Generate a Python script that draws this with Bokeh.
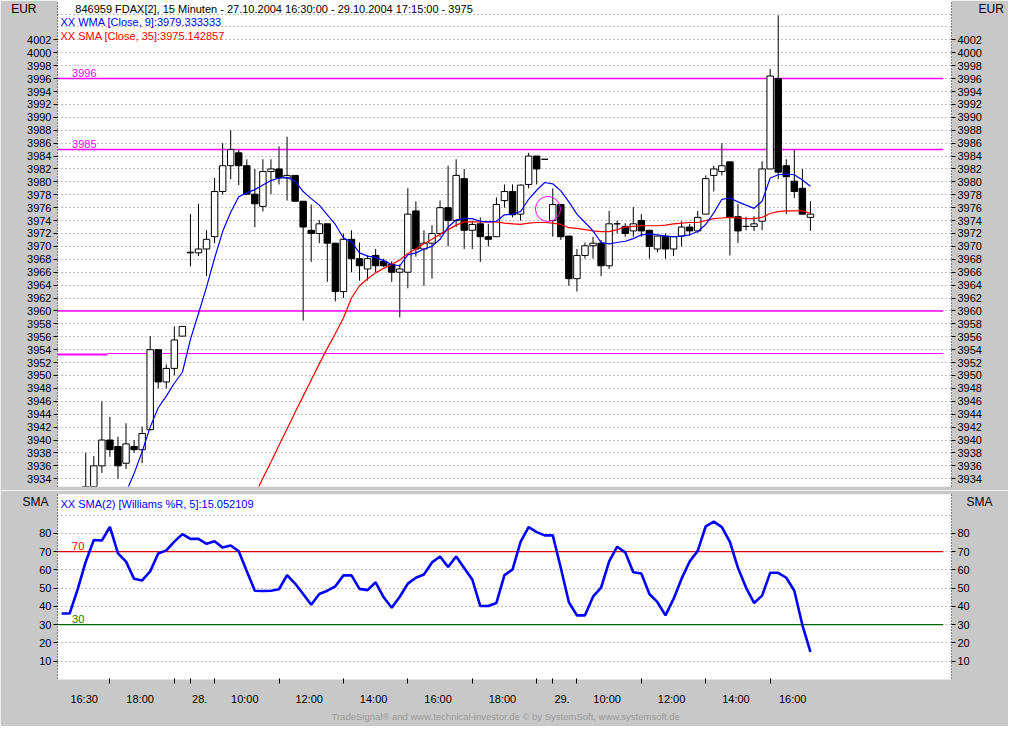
from bokeh.plotting import figure
from bokeh.layouts import column
from bokeh.models import (Range1d, FixedTicker, LinearAxis, Label, Title,
                          ColumnDataSource)
from bokeh.core.properties import value
from bokeh.embed import file_html
from bokeh.resources import INLINE

# ---------------- data ----------------
bar_index = list(range(91))
opens = [3930.5, 3931.5, 3936.0, 3940.0, 3939.0, 3936.4, 3939.0, 3938.5, 3941.6, 3954.0,
         3949.0, 3951.1, 3956.1, 3969.0, 3969.0, 3969.6, 3971.5, 3978.5, 3982.5, 3984.5,
         3982.5, 3978.1, 3976.2, 3981.6, 3982.0, 3980.6, 3981.0, 3977.0, 3972.5, 3972.0,
         3973.5, 3970.5, 3963.0, 3971.1, 3968.1, 3966.5, 3968.6, 3967.7, 3967.2, 3966.0,
         3966.0, 3975.5, 3969.6, 3970.5, 3972.0, 3976.0, 3974.0, 3980.5, 3972.5, 3973.5,
         3971.5, 3971.5, 3977.1, 3978.5, 3975.0, 3979.6, 3984.0, 3983.5, 3974.0, 3976.5,
         3971.6, 3965.0, 3968.6, 3970.1, 3970.5, 3967.0, 3973.5, 3973.1, 3972.4, 3974.0,
         3972.5, 3969.6, 3971.6, 3969.6, 3971.6, 3973.0, 3972.4, 3975.0, 3981.0, 3981.6,
         3983.1, 3974.6, 3973.1, 3973.1, 3973.9, 3982.0, 3996.0, 3982.5, 3980.1, 3979.0,
         3974.5]
highs = [3938.0, 3937.5, 3946.0, 3943.6, 3940.5, 3942.6, 3940.0, 3942.1, 3956.1, 3954.0,
         3951.7, 3957.6, 3957.6, 3975.0, 3976.6, 3972.5, 3980.6, 3986.0, 3988.0, 3985.0,
         3983.5, 3982.0, 3983.5, 3983.5, 3985.5, 3987.0, 3981.0, 3977.0, 3976.5, 3974.1,
         3973.5, 3970.5, 3972.0, 3972.5, 3970.6, 3968.6, 3969.6, 3968.1, 3967.7, 3967.2,
         3979.0, 3977.0, 3972.5, 3973.3, 3977.1, 3982.5, 3983.5, 3982.0, 3974.0, 3974.5,
         3973.5, 3977.6, 3979.6, 3979.6, 3979.6, 3984.5, 3984.0, 3983.5, 3979.0, 3976.5,
         3971.6, 3969.6, 3970.6, 3971.5, 3971.0, 3975.5, 3974.0, 3973.6, 3976.1, 3975.0,
         3972.5, 3971.6, 3972.0, 3971.6, 3973.9, 3973.5, 3975.5, 3981.0, 3982.5, 3986.0,
         3983.1, 3976.6, 3974.6, 3974.7, 3983.2, 3997.5, 4005.8, 3983.5, 3985.0, 3982.0,
         3977.0]
lows = [3929.5, 3930.5, 3934.9, 3937.4, 3934.0, 3935.5, 3938.0, 3936.4, 3941.5, 3948.0,
        3948.0, 3950.0, 3956.1, 3966.9, 3968.5, 3965.4, 3970.5, 3978.0, 3980.4, 3979.5,
        3978.0, 3973.0, 3975.4, 3978.1, 3979.6, 3977.1, 3977.0, 3958.5, 3967.6, 3970.5,
        3964.5, 3961.5, 3962.0, 3966.0, 3964.7, 3964.7, 3966.0, 3966.8, 3964.5, 3959.0,
        3963.5, 3968.4, 3963.9, 3965.0, 3971.5, 3970.0, 3973.0, 3969.6, 3969.6, 3967.6,
        3970.0, 3971.5, 3976.0, 3974.5, 3974.0, 3979.0, 3979.6, 3983.5, 3971.5, 3971.0,
        3963.9, 3963.0, 3968.1, 3968.1, 3965.4, 3966.5, 3972.0, 3971.5, 3971.5, 3971.5,
        3968.1, 3969.1, 3968.1, 3968.5, 3970.0, 3971.6, 3972.1, 3975.0, 3978.5, 3981.0,
        3968.6, 3970.5, 3972.5, 3972.4, 3972.5, 3982.0, 3980.4, 3975.0, 3977.5, 3975.0,
        3972.4]
closes = [3932.5, 3936.0, 3940.0, 3938.5, 3936.0, 3939.4, 3938.5, 3941.0, 3954.0, 3949.0,
          3951.1, 3955.5, 3957.6, 3969.1, 3969.6, 3971.1, 3978.5, 3982.5, 3985.0, 3982.5,
          3978.1, 3976.6, 3981.6, 3982.0, 3980.6, 3981.0, 3977.0, 3973.0, 3972.0, 3973.5,
          3970.5, 3963.0, 3971.1, 3968.1, 3967.0, 3968.1, 3967.0, 3967.0, 3966.0, 3966.5,
          3975.0, 3969.6, 3970.5, 3972.0, 3976.0, 3974.0, 3981.0, 3972.5, 3973.4, 3971.5,
          3971.1, 3976.5, 3978.5, 3974.9, 3979.5, 3984.0, 3982.0, 3983.5, 3976.5, 3971.5,
          3965.0, 3968.6, 3970.1, 3970.5, 3967.0, 3973.5, 3973.5, 3972.0, 3973.5, 3972.4,
          3970.0, 3971.6, 3969.6, 3971.5, 3973.0, 3972.4, 3974.5, 3980.5, 3982.0, 3982.5,
          3974.5, 3972.4, 3973.1, 3973.5, 3982.0, 3996.4, 3981.5, 3980.8, 3978.5, 3975.0,
          3975.0]

wma_start = 4
wma9 = [3929.5, 3931.9, 3934.8, 3938.2, 3942.0, 3945.0, 3946.8, 3948.8, 3950.5, 3955.6,
        3959.6, 3963.7, 3968.2, 3972.3, 3975.3, 3977.7, 3978.3, 3978.8, 3979.5, 3980.2,
        3980.6, 3980.7, 3980.1, 3978.5, 3977.4, 3976.4, 3974.9, 3973.4, 3971.3, 3970.7,
        3969.0, 3968.5, 3968.3, 3967.8, 3967.2, 3967.0, 3968.7, 3969.0, 3969.6, 3970.0,
        3971.1, 3973.0, 3974.1, 3974.3, 3974.3, 3973.9, 3973.8, 3973.9, 3974.9, 3975.0,
        3975.4, 3977.3, 3978.7, 3979.9, 3979.7, 3978.6, 3976.9, 3975.0, 3973.7, 3972.4,
        3970.6, 3970.4, 3970.6, 3970.8, 3971.2, 3971.8, 3971.9, 3971.8, 3971.6, 3971.5,
        3971.6, 3971.8, 3972.3, 3973.4, 3975.2, 3977.3, 3977.5, 3976.9, 3976.4, 3975.9,
        3977.0, 3980.6, 3981.1, 3981.2, 3981.1, 3980.3, 3979.33]

sma_start = 21
sma35 = [3931.5, 3934.1, 3936.6, 3939.2, 3941.7, 3944.3, 3946.8, 3949.3, 3951.8, 3954.2,
         3956.5, 3958.9, 3962.0, 3963.9, 3965.0, 3965.9, 3966.6, 3967.2, 3967.9, 3968.9,
         3969.6, 3970.4, 3971.1, 3971.9, 3972.6, 3973.3, 3973.8, 3973.8, 3973.8, 3973.8,
         3973.8, 3973.6, 3973.5, 3973.4, 3973.6, 3973.7, 3973.7, 3973.6, 3973.4, 3972.9,
         3972.8, 3972.6, 3972.4, 3972.3, 3972.3, 3972.6, 3973.0, 3973.1, 3973.2, 3973.2,
         3973.2, 3973.3, 3973.5, 3973.6, 3973.7, 3973.7, 3974.0, 3974.3, 3974.4, 3974.5,
         3974.4, 3974.3, 3974.3, 3974.5, 3975.1, 3975.4, 3975.5, 3975.5, 3975.5, 3975.14]

wr_start = -3
wr_sma2 = [36.1, 36.1, 49.5, 64.5, 76.4, 76.1, 83.5, 69.0, 64.5, 55.1,
           54.2, 59.2, 69.0, 70.7, 75.5, 79.6, 77.0, 77.0, 74.3, 75.7,
           72.2, 73.4, 70.2, 59.2, 48.6, 48.4, 48.6, 49.4, 57.1, 52.5,
           46.8, 40.9, 46.8, 48.6, 51.0, 57.0, 57.0, 49.6, 48.9, 53.2,
           45.0, 39.3, 45.3, 52.5, 55.7, 57.5, 64.1, 67.3, 61.6, 67.3,
           61.1, 54.8, 40.2, 40.2, 41.9, 57.1, 60.2, 75.4, 83.4, 80.7,
           78.9, 78.9, 61.0, 42.3, 35.1, 35.1, 45.3, 50.3, 64.6, 72.7,
           69.6, 58.7, 58.0, 46.8, 42.3, 35.1, 44.1, 55.2, 64.6, 70.4,
           83.9, 86.4, 83.4, 75.4, 61.1, 50.3, 41.9, 45.9, 58.4, 58.4,
           55.7, 48.6, 29.8, 15.05]

levels = [3996, 3985, 3960]
level_labels = ["3996", "3985"]
trend_left = 3953.25
trend_right = 3953.4
marked_bar = 57.4
marked_price = 3975.8
osc_levels = [70, 30]

price_ticks = list(range(3934, 4004, 2))
price_grid = list(range(3934, 4008, 2))
osc_ticks = [10, 20, 30, 40, 50, 60, 70, 80]
osc_grid = [10, 20, 30, 40, 50, 60, 70, 80, 90]
time_tick_bars = [3, 11, 13, 16, 24, 32, 40, 48, 56, 58, 61, 69, 77, 85]
time_label_bars = [-0.2, 6.75, 14.15, 19.75, 27.75, 35.75, 43.75, 51.75, 59.15,
                   64.75, 72.75, 80.75, 87.8]
time_labels = ["16:30", "18:00", "28.", "10:00", "12:00", "14:00", "16:00", "18:00",
               "29.", "10:00", "12:00", "14:00", "16:00"]

title_text = "846959  FDAX[2], 15 Minuten - 27.10.2004 16:30:00 - 29.10.2004 17:15:00 - 3975"
wma_text = "XX WMA [Close, 9]:3979.333333"
sma_text = "XX SMA [Close, 35]:3975.142857"
wr_text = "XX SMA(2) [Williams %R, 5]:15.052109"
footer = "TradeSignal\u00ae and www.technical-investor.de \u00a9 by  SystemSoft, www.systemsoft.de"
top_unit = "EUR"
low_unit = "SMA"

# ---------------- style ----------------
W = 1008
LB, RB = 57, 57
BG = "#C8C8C8"
FONT = "Liberation Sans"
MAG = "#FF00FF"
X_LO, X_HI = -3.51, 107.52
LINE_END = 106.5

TOP_H, TOP_FRAME = 490, 486
P_LO, P_HI = 3932.8, 4008.1
LOW_H, LOW_FRAME = 236, 184
O_LO, O_HI = 0.5, 101.3

xr = Range1d(X_LO, X_HI)


def style_axis(ax, ticks):
    ax.ticker = FixedTicker(ticks=ticks)
    ax.major_label_text_font = FONT
    ax.major_label_text_font_size = "11px"
    ax.major_label_text_color = "black"
    ax.major_tick_out = 4
    ax.major_tick_in = 0
    ax.minor_tick_out = 0
    ax.minor_tick_in = 0
    ax.major_label_standoff = 2
    ax.axis_line_color = "black"
    ax.axis_line_dash = "1 2"
    ax.major_tick_line_color = "black"


def header_axes(p, txt, ypos):
    ypos = round(ypos, 2)
    for loc, standoff in (("left", -12), ("right", -6)):
        ax = LinearAxis(ticker=FixedTicker(ticks=[ypos]),
                        major_label_overrides={ypos: txt})
        ax.major_label_text_font = FONT
        ax.major_label_text_font_size = "12px"
        ax.major_label_text_color = "black"
        ax.major_tick_out = 0
        ax.major_tick_in = 0
        ax.minor_tick_out = 0
        ax.minor_tick_in = 0
        ax.major_label_standoff = standoff
        ax.axis_line_color = None
        p.add_layout(ax, loc)


# ---------------- top panel ----------------
top = figure(width=W, height=TOP_H, x_range=xr, y_range=Range1d(P_LO, P_HI),
             output_backend="svg", toolbar_location=None, x_axis_location=None,
             min_border_left=LB, min_border_right=RB, min_border_top=0,
             min_border_bottom=TOP_H - TOP_FRAME, background_fill_color="white",
             border_fill_color=BG, outline_line_color=None)
top.xgrid.visible = False
top.ygrid.ticker = FixedTicker(ticks=price_grid)
top.ygrid.grid_line_color = "#808080"
top.ygrid.grid_line_dash = "1 3"
style_axis(top.yaxis[0], price_ticks)
ra = LinearAxis()
style_axis(ra, price_ticks)
top.add_layout(ra, "right")
header_axes(top, top_unit, P_HI - 8 * (P_HI - P_LO) / TOP_FRAME)

# horizontal level lines
top.segment(x0=[X_LO] * len(levels), x1=[LINE_END] * len(levels), y0=levels, y1=levels,
            line_color=MAG, line_width=1.5)
top.text(x=[-1.7] * len(level_labels), y=[float(v) + 0.25 for v in level_labels],
         text=level_labels, text_color=MAG, text_font=value(FONT),
         text_font_size="11px", text_baseline="bottom")
top.segment(x0=[X_LO], x1=[2.7], y0=[trend_left], y1=[trend_left], line_color=MAG,
            line_width=2)
top.segment(x0=[2.7], x1=[LINE_END], y0=[trend_right], y1=[trend_right], line_color=MAG,
            line_width=1)

# candles
src = ColumnDataSource(dict(
    x=bar_index, high=highs, low=lows,
    bt=[max(o, c) for o, c in zip(opens, closes)],
    bb=[min(o, c) for o, c in zip(opens, closes)],
    fill=["white" if c >= o else "black" for o, c in zip(opens, closes)]))
top.segment(x0="x", y0="low", x1="x", y1="high", source=src, line_color="black",
            line_width=1)
top.vbar(x="x", top="bt", bottom="bb", width=0.8, fill_color="fill",
         line_color="black", line_width=1, source=src)

# moving averages
top.line(list(range(sma_start, sma_start + len(sma35))), sma35, line_color="#FF0000",
         line_width=1.2)
top.line(list(range(wma_start, wma_start + len(wma9))), wma9, line_color="#0000FF",
         line_width=1.2)

# marker circle
top.scatter(x=[marked_bar], y=[marked_price], marker="circle", size=25,
            fill_color=None, line_color=MAG, line_width=1)

# texts
top.add_layout(Label(x=-1.3, y=4006.76, text=title_text, text_font=FONT,
                     text_font_size="11px", text_baseline="middle", text_color="black"))
top.add_layout(Label(x=-3.15, y=4004.8, text=wma_text, text_font=FONT,
                     text_font_size="11px", text_baseline="middle", text_color="#0000FF"))
top.add_layout(Label(x=-3.15, y=4002.55, text=sma_text, text_font=FONT,
                     text_font_size="11px", text_baseline="middle", text_color="#FF0000"))

# ---------------- lower panel ----------------
low = figure(width=W, height=LOW_H, x_range=xr, y_range=Range1d(O_LO, O_HI),
             output_backend="svg", toolbar_location=None,
             min_border_left=LB, min_border_right=RB, min_border_top=4,
             min_border_bottom=LOW_H - LOW_FRAME - 4, background_fill_color="white",
             border_fill_color=BG, outline_line_color=None)
low.xgrid.visible = False
low.ygrid.ticker = FixedTicker(ticks=osc_grid)
low.ygrid.grid_line_color = "#808080"
low.ygrid.grid_line_dash = "1 3"
style_axis(low.yaxis[0], osc_ticks)
ra2 = LinearAxis()
style_axis(ra2, osc_ticks)
low.add_layout(ra2, "right")
header_axes(low, low_unit, O_HI - 8 * (O_HI - O_LO) / LOW_FRAME)

low.segment(x0=[X_LO, X_LO], x1=[LINE_END, LINE_END], y0=osc_levels, y1=osc_levels,
            line_color=["#E00000", "#006400"], line_width=1.2)
low.text(x=[-1.7, -1.7], y=[v + 0.8 for v in osc_levels], text=[str(v) for v in osc_levels],
         text_color=["#FF0000", "#008000"], text_font=value(FONT), text_font_size="11px",
         text_baseline="bottom")
low.line(list(range(wr_start, wr_start + len(wr_sma2))), wr_sma2, line_color="#0000FF",
         line_width=2.6)
low.add_layout(Label(x=-3.15, y=95.9, text=wr_text, text_font=FONT,
                     text_font_size="11px", text_baseline="middle", text_color="#0000FF"))

xa = low.xaxis[0]
xa.ticker = FixedTicker(ticks=time_label_bars, minor_ticks=time_tick_bars)
xa.major_label_overrides = {v: t for v, t in zip(time_label_bars, time_labels)}
xa.major_label_text_font = FONT
xa.major_label_text_font_size = "11px"
xa.major_label_text_color = "black"
xa.major_tick_out = 0
xa.major_tick_in = 0
xa.minor_tick_out = 5
xa.minor_tick_in = 0
xa.minor_tick_line_color = "black"
xa.axis_line_color = "white"
xa.axis_line_width = 2
xa.major_label_standoff = 9

low.add_layout(Title(text=footer, align="left", offset=274, text_font=FONT,
                     text_font_size="9.5px", text_color="#9A9A9A", text_font_style="normal",
                     standoff=2), "below")

layout = column(top, low, spacing=0)
open("out.html", "w").write(file_html(layout, INLINE))
